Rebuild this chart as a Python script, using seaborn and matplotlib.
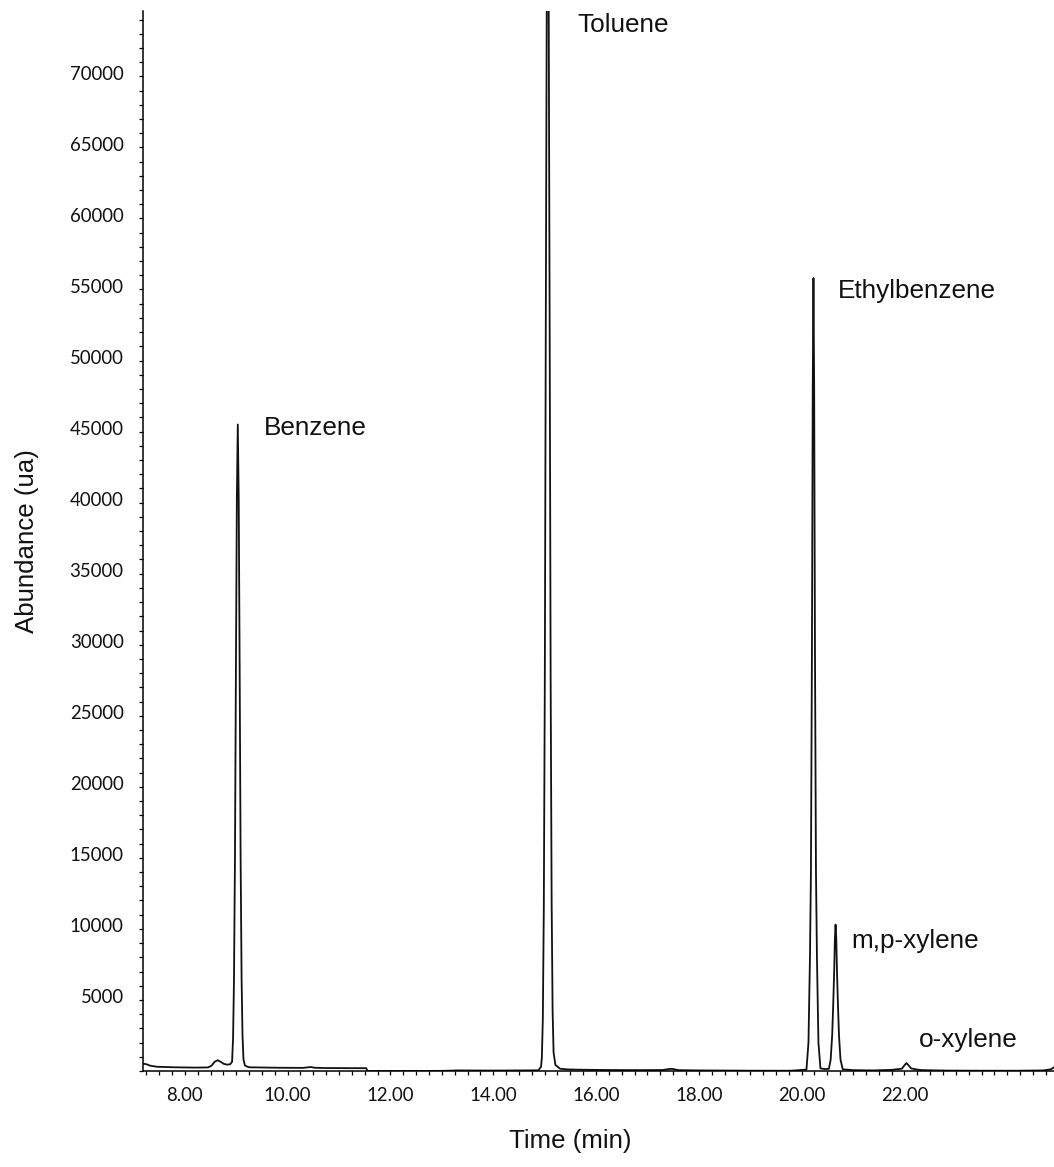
import matplotlib
matplotlib.use("Agg")
import matplotlib.pyplot as plt
from matplotlib.ticker import FixedLocator, MultipleLocator, FuncFormatter
from matplotlib.transforms import ScaledTranslation
import seaborn as sns
import pandas as pd

# ---------------- data ----------------
time_min = [
    7.18, 7.25, 7.32, 7.45, 7.80, 8.20, 8.45, 8.52, 8.58, 8.64, 8.70, 8.76, 8.82, 8.88,
    8.919, 8.938, 8.956, 8.975, 8.993, 9.012, 9.030, 9.048, 9.067, 9.085, 9.104, 9.122,
    9.141, 9.17, 9.25, 9.80, 10.30, 10.45, 10.52, 10.70, 11.20, 11.53, 11.55,
    12.20, 13.00, 13.30, 14.00, 14.60, 14.88, 14.93,
    14.946, 14.965, 14.984, 15.003, 15.022, 15.041, 15.060, 15.079, 15.098, 15.117,
    15.136, 15.155, 15.174, 15.21, 15.30, 15.45, 15.70, 16.20, 16.80, 17.30, 17.44,
    17.50, 17.60, 18.00, 18.60, 19.20, 19.80, 20.094,
    20.133, 20.162, 20.181, 20.201, 20.216, 20.230, 20.244, 20.259, 20.279, 20.298,
    20.327, 20.366, 20.45, 20.53,
    20.565, 20.594, 20.613, 20.633, 20.647, 20.660, 20.674, 20.688, 20.708, 20.727,
    20.756, 20.80, 21.00, 21.40, 21.75, 21.95, 22.00, 22.04, 22.08, 22.13, 22.25,
    22.35, 22.80, 23.50, 24.20, 24.70, 24.85, 24.91,
]
abundance = [
    520, 480, 380, 300, 260, 240, 250, 380, 650, 760, 640, 500, 450, 470,
    650, 2300, 6400, 15000, 27800, 40300, 45500, 40300, 27800, 15000, 6500, 2500,
    800, 380, 260, 230, 220, 280, 230, 210, 200, 200, 0,
    0, 10, 40, 30, 40, 50, 300,
    950, 3700, 11500, 27000, 52000, 75000, 85000, 75000, 52000, 27500,
    12000, 4200, 1300, 420, 160, 110, 90, 70, 60, 70, 150,
    140, 60, 40, 30, 20, 20, 100,
    2000, 8000, 14000, 30000, 48000, 55800, 48000, 30000, 14000, 8000,
    2000, 180, 140, 150,
    800, 2500, 4500, 7000, 9300, 10300, 9300, 7000, 4500, 2500,
    800, 120, 60, 40, 80, 160, 400, 560, 400, 180, 100,
    60, 30, 20, 20, 40, 120, 260,
]

peak_names = ["Benzene", "Toluene", "Ethylbenzene", "m,p-xylene", "o-xylene"]
peak_times = [9.03, 15.06, 20.23, 20.66, 22.04]
peak_heights = [45500, 85000, 55800, 10300, 560]

x_tick_values = [8, 10, 12, 14, 16, 18, 20, 22]
y_tick_values = [5000, 10000, 15000, 20000, 25000, 30000, 35000, 40000,
                 45000, 50000, 55000, 60000, 65000, 70000]

x_label = "Time (min)"
y_label = "Abundance (ua)"

# ---------------- style ----------------
sns.set_style("ticks")
plt.rcParams["font.family"] = ["Liberation Sans", "DejaVu Sans"]

W, H = 1054, 1167
X_LIM = (7.18, 24.91)
Y_LIM = (0, 74600)
label_offsets_px = [(26, -11), (30, -21), (24, -20), (16, -23), (12, 16)]

fig = plt.figure(figsize=(W / 100, H / 100), dpi=100)
ax = fig.add_axes([142.7 / W, 96 / H, (W - 142.7) / W, 1060 / H])

df = pd.DataFrame({"time": time_min, "abundance": abundance})
sns.lineplot(data=df, x="time", y="abundance", ax=ax, color="#111111",
             linewidth=1.3, sort=False, estimator=None)

ax.set_xlim(*X_LIM)
ax.set_ylim(*Y_LIM)

sns.despine(ax=ax)
for side in ("left", "bottom"):
    ax.spines[side].set_linewidth(1.1)
    ax.spines[side].set_color("black")

ax.xaxis.set_major_locator(FixedLocator(x_tick_values))
ax.xaxis.set_minor_locator(MultipleLocator(0.25))
ax.xaxis.set_major_formatter(FuncFormatter(lambda v, p: f"{v:.2f}"))
ax.yaxis.set_major_locator(FixedLocator(y_tick_values))
ax.yaxis.set_minor_locator(MultipleLocator(1000))
ax.yaxis.set_major_formatter(FuncFormatter(lambda v, p: f"{int(v)}"))

ax.tick_params(axis="both", which="both", direction="out", length=3.2,
               width=0.9, color="black")
ax.tick_params(axis="y", which="major", pad=10.5)
ax.tick_params(axis="x", which="major", pad=8.0)
for lab in ax.get_xticklabels() + ax.get_yticklabels():
    lab.set_fontfamily("Lato")
    lab.set_fontsize(13.4)
    lab.set_color("#111111")
for lab in ax.get_yticklabels():
    lab.set_transform(lab.get_transform() + ScaledTranslation(0, 3.5 / 100, fig.dpi_scale_trans))

ax.set_xlabel(x_label, fontsize=18.6, va="center", color="#111111")
ax.set_ylabel(y_label, fontsize=18.6, va="center", color="#111111")
ax.xaxis.set_label_coords((570 - 142.7) / (W - 142.7), -(1141 - 1071) / 1060)
ax.yaxis.set_label_coords((27 - 142.7) / (W - 142.7), 0.5)

for name, t, h, (dx, dy) in zip(peak_names, peak_times, peak_heights, label_offsets_px):
    ax.annotate(name, xy=(t, min(h, Y_LIM[1])), xytext=(dx, dy),
                textcoords="offset pixels", ha="left", va="baseline",
                fontsize=18.8, color="#111111", annotation_clip=False)

fig.savefig("out.png", dpi=100)
